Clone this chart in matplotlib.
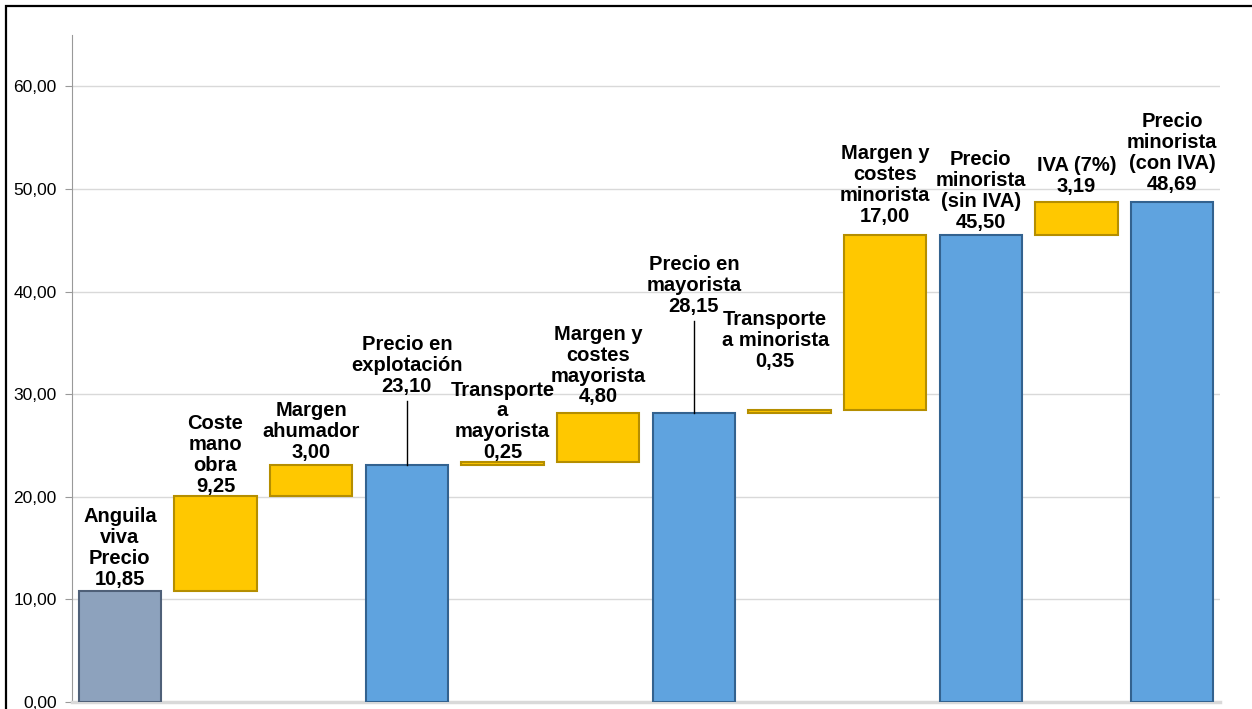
import matplotlib
matplotlib.use("Agg")
import matplotlib.pyplot as plt
from matplotlib.patches import Rectangle
import numpy as np

plt.rcParams["font.family"] = ["Liberation Sans", "DejaVu Sans"]

# ============================================================
# Datos: formación del precio (cascada)
# ============================================================
names = [
    "Anguila\nviva\nPrecio", "Coste\nmano\nobra", "Margen\nahumador",
    "Precio en\nexplotación", "Transporte\na\nmayorista", "Margen y\ncostes\nmayorista",
    "Precio en\nmayorista", "Transporte\na minorista", "Margen y\ncostes\nminorista",
    "Precio\nminorista\n(sin IVA)", "IVA (7%)", "Precio\nminorista\n(con IVA)",
]
values = [10.85, 9.25, 3.00, 23.10, 0.25, 4.80, 28.15, 0.35, 17.00, 45.50, 3.19, 48.69]
# "start" = precio inicial, "step" = incremento, "total" = precio acumulado
kinds = ["start", "step", "step", "total", "step", "step",
         "total", "step", "step", "total", "step", "total"]

# posicion de etiquetas (offset sobre la barra, en unidades del eje)
label_pad = [0.15, 0.0, 0.3, 6.7, 0.0, 0.65, 9.45, 3.8, 0.9, 0.3, 0.6, 0.8]
label_dx = [0, 0, 0, 0, 0, 0, 0, -0.15, 0, 0, 0, 0]
leader = [False, False, False, True, False, False, True, False, False, False, False, False]

colors = {"start": ("#8DA2BD", "#4F6078"),
          "step": ("#FFC800", "#B58E00"),
          "total": ("#5FA3DF", "#33628F")}

# bases de las barras flotantes
bottoms = []
running = 0.0
for v, k in zip(values, kinds):
    if k == "step":
        bottoms.append(running)
        running += v
    else:
        bottoms.append(0.0)
        running = v

fig = plt.figure(figsize=(12.52, 7.09), dpi=100)
ax = fig.add_axes([72 / 1252, 7 / 709, (1220 - 72) / 1252, (702 - 35) / 709])

x = np.arange(len(values))
for i, (v, b, k) in enumerate(zip(values, bottoms, kinds)):
    fc, ec = colors[k]
    ax.bar(x[i], v, bottom=b, width=0.86, color=fc, edgecolor=ec, linewidth=1.5, zorder=3)
    top = b + v
    ytxt = top + label_pad[i]
    ax.text(x[i] + label_dx[i], ytxt, names[i] + "\n" + f"{v:.2f}".replace(".", ","),
            ha="center", va="bottom", fontsize=14.5, fontweight="bold",
            linespacing=1.13, zorder=5)
    if leader[i]:
        ax.plot([x[i], x[i]], [top, ytxt - 0.5], color="black", linewidth=1, zorder=4)

ax.set_xlim(-0.5, len(values) - 0.5)
ax.set_ylim(0, 65)
ax.set_yticks(np.arange(0, 61, 10))
ax.set_yticklabels([f"{t:.2f}".replace(".", ",") for t in np.arange(0, 61, 10)], fontsize=12.5)
ax.set_xticks([])
ax.grid(True, axis="y", color="#D9D9D9", linewidth=1, zorder=0)
ax.tick_params(axis="y", length=5, color="#999999", pad=6)
for s in ["top", "right"]:
    ax.spines[s].set_visible(False)
ax.spines["left"].set_color("#999999")
ax.spines["bottom"].set_color("#D9D9D9")
ax.spines["bottom"].set_linewidth(2.5)

# marco exterior del grafico
fig.patches.append(Rectangle((6 / 1252, -0.1), 1.2, 1.1 - 6 / 709, transform=fig.transFigure,
                             fill=False, edgecolor="black", linewidth=1.6))

plt.savefig("out.png", dpi=100)
plt.close()
